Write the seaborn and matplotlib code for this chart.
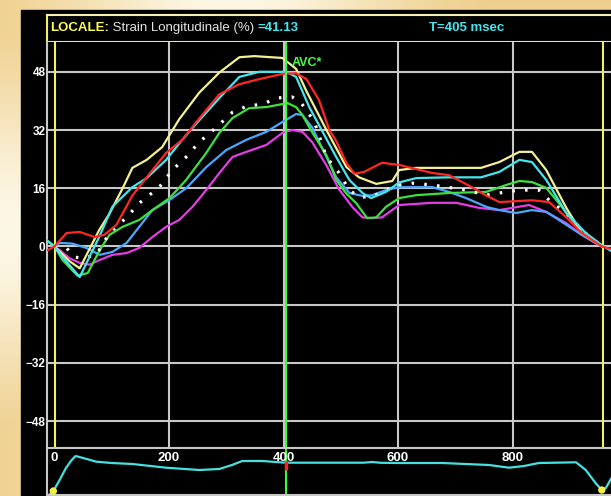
import numpy as np
import pandas as pd
import seaborn as sns
import matplotlib.pyplot as plt
from matplotlib.patches import Rectangle

# ---- data (time in msec, strain in %) ----
yellow_t = [0, 26, 44, 78, 96, 119, 136, 161, 188, 218, 253, 288, 323, 349, 398, 422, 440, 475, 510,
            532, 562, 590, 602, 632, 689, 745, 777, 812, 834, 859, 894, 921, 956]
yellow_v = [0, -4, -6, 4.5, 9, 16, 21.6, 23.8, 27.3, 35, 42.3, 47.8, 52, 52.3, 51.8, 48.8, 42.7, 32, 21.8,
            19, 17.2, 18, 21, 21.6, 21.6, 21.6, 23.2, 26, 26, 21, 10.6, 3.7, 0]

cyan_t = [-12, 0, 12, 44, 78, 101, 136, 161, 195, 223, 253, 288, 323, 358, 405, 422, 445, 492, 515,
          538, 553, 579, 602, 632, 689, 745, 777, 812, 834, 859, 894, 928, 956, 975]
cyan_v = [1.5, 0, -2.5, -8.4, 2.6, 10.9, 16.3, 18.8, 23.8, 29.3, 34.7, 40.8, 46.6, 48, 48, 46.6, 38.3, 24.6, 18.3,
          14.7, 13.3, 15, 17.6, 18.8, 19, 19, 20.5, 23.8, 23.2, 18.3, 9.2, 3.7, 0.4, -1.5]

red_t = [-12, 0, 21, 44, 70, 87, 108, 136, 161, 195, 223, 253, 288, 323, 358, 398, 422, 440, 462, 480,
         492, 510, 524, 541, 572, 602, 660, 689, 729, 754, 777, 834, 864, 894, 921, 956, 975]
red_v = [-1, 0, 3.7, 4, 2.6, 3.2, 5.9, 14, 19, 25.7, 29.3, 35.2, 41.8, 44.6, 46, 47.4, 47.6, 46, 40.2, 32,
         29, 22.9, 20, 20.5, 23, 22.4, 20.2, 19.6, 16.3, 14, 12.2, 12.7, 12.2, 8, 3.7, 0, -0.8]

white_t = [0, 21, 35, 49, 73, 96, 126, 148, 183, 206, 230, 253, 283, 311, 337, 363, 389, 415, 431, 442,
           454, 475, 497, 515, 532, 553, 579, 602, 625, 660, 719, 754, 777, 812, 846, 869, 894, 921, 956]
white_v = [0, -0.4, -2.9, -3.2, -2.3, 3.7, 8, 11.9, 16.3, 21, 24.6, 28.7, 32.8, 36.9, 38.6, 39.1, 40.8, 41.1, 39.4, 37,
           34.2, 24.6, 20.2, 15.5, 13.6, 13.6, 15.5, 16.9, 17.4, 16.9, 15.5, 14.1, 14.7, 15.5, 15.5, 12, 9.2, 4.5, 0]

green_t = [-14, 0, 14, 40, 58, 79, 96, 119, 148, 171, 201, 230, 265, 288, 311, 340, 370, 407, 422, 433,
           450, 475, 492, 510, 527, 546, 562, 579, 602, 632, 689, 754, 789, 812, 834, 859, 881, 921, 956]
green_v = [1.8, 0, -3.7, -8, -7.3, -1, 3.2, 5.4, 7.3, 10, 13.3, 18.3, 25.7, 31.2, 35.3, 38, 38.3, 39.4, 38.3, 36.1,
           31.4, 25.1, 18.3, 14.5, 11.9, 7.8, 8, 10.9, 13.3, 14.1, 14.7, 15, 16.9, 18, 17.7, 16.1, 11.9, 3.7, 0.1]

blue_t = [0, 9, 31, 56, 79, 101, 126, 148, 171, 201, 230, 265, 300, 335, 370, 398, 422, 433, 450, 475,
          492, 515, 538, 555, 579, 602, 660, 689, 719, 754, 777, 806, 834, 859, 881, 921, 956]
blue_v = [0, 1, 0.8, -0.4, -2.3, -1.5, 1, 5.4, 10, 12.8, 16, 21.8, 26.5, 29.3, 31.5, 34.2, 36.4, 36.1, 32.7, 24.6,
          19, 14.7, 13.9, 14.1, 15.5, 16.3, 16.3, 15, 13.3, 10.9, 10, 9.2, 10, 9.5, 7.3, 3.2, 0]

magenta_t = [0, 9, 26, 44, 61, 79, 101, 126, 148, 171, 195, 218, 241, 265, 288, 311, 335, 370, 398, 415,
             433, 450, 475, 497, 520, 538, 555, 572, 602, 660, 702, 742, 777, 799, 829, 859, 894, 921, 956]
magenta_v = [0, -1, -3.2, -4.5, -5, -3.7, -2.3, -1.8, -0.4, 2.6, 5.4, 7.3, 10.9, 15.5, 20.2, 24.6, 26, 27.9, 31.2, 32,
             31.5, 28.7, 22.3, 15.7, 10.9, 8, 7.8, 8, 11.4, 12, 12, 10.6, 10, 10.6, 11.4, 9.5, 6.4, 3.2, 0]

# lower strip trace (level above strip bottom, px-like units)
strip_t = [-12, -2, 9, 20, 30, 37, 50, 73, 100, 136, 195, 253, 288, 310, 328, 363, 398, 410, 540, 555,
           570, 602, 677, 759, 794, 820, 846, 911, 928, 945, 956, 963, 975]
strip_v = [0, 5, 16, 28, 36, 40, 38, 34.3, 33, 32, 28.3, 26, 27, 31, 35, 35, 33.5, 33.3, 33.3, 34,
           33.2, 33, 33, 31, 28.3, 30, 33, 33.7, 26, 13, 6, 8, 20]
strip_dot_t = [-2, 956]
strip_dot_v = [5, 6]
strip_minor_ticks = [87, 187, 287, 387, 487, 587, 687, 787, 887]
strip_labels = [0, 200, 400, 600, 800]

y_ticks = [-48, -32, -16, 0, 16, 32, 48]
x_grid = [200, 400, 600, 800]
cycle_start, cycle_end = 0, 958
avc_ms = 405
strain_value = "41.13"

# ---- layout helpers (pixel geometry of the 611x496 picture) ----
W, H = 611, 496
PX_PER_MS = 0.5725
X0_PX = 54.5
def ms_at(px):
    return (px - X0_PX) / PX_PER_MS

def rect(x0, y0, x1, y1):
    return [x0 / W, 1 - y1 / H, (x1 - x0) / W, (y1 - y0) / H]

sns.set_style("dark", {"axes.facecolor": "black"})
plt.rcParams["font.family"] = ["Liberation Sans", "DejaVu Sans"]

fig = plt.figure(figsize=(W / 100, H / 100), dpi=100)

# background: cream gradient and black frame
bg = fig.add_axes([0, 0, 1, 1], zorder=-10)
yy, xx = np.mgrid[0:H, 0:W]
light = np.maximum(np.exp(-((xx - 230) / 170.0) ** 2), np.exp(-((yy - 230) / 150.0) ** 2))
dark_c = np.array([0.93, 0.80, 0.52])
light_c = np.array([0.99, 0.97, 0.90])
img = dark_c + (light_c - dark_c) * light[..., None]
bg.imshow(img, extent=[0, W, H, 0], aspect="auto")
bg.add_patch(Rectangle((21, 10), W, H, color="black"))
bg.set_xlim(0, W)
bg.set_ylim(H, 0)
bg.axis("off")

grid_c = "#c8c8c8"
yel_c = "#f2f060"

# header box
hd = fig.add_axes(rect(47, 15, 630, 42))
hd.set_facecolor("black")
hd.set_xlim(47, 630)
hd.set_ylim(42, 15)
hd.set_xticks([])
hd.set_yticks([])
for s in ["left", "bottom"]:
    hd.spines[s].set_color(yel_c)
    hd.spines[s].set_linewidth(1.5)
hd.spines["top"].set_color("#f4f0b0")
hd.spines["top"].set_linewidth(1.5)
hd.spines["right"].set_visible(False)
t1 = hd.text(50, 28, "LOCALE:", color="#ffff50", fontsize=9.5, fontweight="bold", va="center")
t2 = hd.annotate(" Strain Longitudinale (%) ", xy=(1, 0), xycoords=t1, va="bottom",
                 color="#e4e4e4", fontsize=9.5)
hd.annotate("=" + strain_value, xy=(1, 0), xycoords=t2, va="bottom",
            color="#40e8f0", fontsize=9.5, fontweight="bold")
hd.text(504, 28, "T=%d msec" % avc_ms, color="#40e8f0", fontsize=9.5, fontweight="bold",
        ha="right", va="center")

# main strain axes
ax = fig.add_axes(rect(47, 42, 630, 448))
ax.set_facecolor("black")
ax.set_xlim(ms_at(47), ms_at(630))
ax.set_ylim((246.5 - 448) / 3.64, (246.5 - 42) / 3.64)
ax.set_yticks(y_ticks)
ax.set_xticks(x_grid)
ax.set_xticklabels([])
ax.tick_params(axis="y", colors="white", length=0, pad=1, labelsize=8.5)
ax.tick_params(axis="x", length=0)
for lab in ax.get_yticklabels():
    lab.set_fontweight("bold")
ax.grid(True, color=grid_c, linewidth=1.5)
for s in ["top", "right", "bottom"]:
    ax.spines[s].set_visible(False)
ax.spines["left"].set_color(grid_c)
ax.spines["left"].set_linewidth(1.5)
ax.axvline(cycle_start, color=yel_c, lw=1.5, zorder=2)
ax.axvline(cycle_end, color=yel_c, lw=1.5, zorder=2)

series = [
    (magenta_t, magenta_v, "#e53de5", "-"),
    (blue_t, blue_v, "#4aa8ff", "-"),
    (green_t, green_v, "#3ee03e", "-"),
    (white_t, white_v, "white", (0, (0.8, 3.2))),
    (yellow_t, yellow_v, "#f5f090", "-"),
    (cyan_t, cyan_v, "#45e6ee", "-"),
    (red_t, red_v, "#ff2626", "-"),
]
for t, v, c, ls in series:
    df = pd.DataFrame({"t": t, "v": v})
    sns.lineplot(data=df, x="t", y="v", ax=ax, color=c, lw=2.3 if ls != "-" else 1.6,
                 linestyle=ls, sort=False, estimator=None, zorder=3)
ax.set_xlabel("")
ax.set_ylabel("")
ax.axvline(avc_ms, color="#33ff33", lw=1.5, zorder=4)
ax.text(avc_ms + 10, 50.4, "AVC*", color="#44ff44", fontsize=9, fontweight="bold",
        va="center", ha="left")

# lower strip
st = fig.add_axes(rect(47, 448, 630, 495))
st.set_facecolor("black")
st.set_xlim(ms_at(47), ms_at(630))
st.set_ylim(1, 48)
st.set_yticks([])
st.set_xticks([])
st.set_xticks(strip_minor_ticks, minor=True)
st.tick_params(axis="x", which="minor", direction="in", length=4, width=1.2, color=yel_c)
for s in ["top", "bottom", "left"]:
    st.spines[s].set_color(grid_c)
    st.spines[s].set_linewidth(1.5)
st.spines["right"].set_visible(False)
sns.lineplot(x=strip_t, y=strip_v, ax=st, color="#45e0e0", lw=1.6, sort=False, estimator=None)
sns.scatterplot(x=strip_dot_t, y=strip_dot_v, ax=st, color="#f0f040", s=28, edgecolor="none", zorder=5)
for lab in strip_labels:
    st.text(lab, 38, str(lab), color="white", fontsize=9.5, fontweight="bold", ha="center", va="center")
st.axvline(avc_ms, color="#33ff33", lw=1.5)
st.vlines(avc_ms, 26, 35, color="#ff2020", lw=2.5, zorder=6)
st.set_xlabel("")
st.set_ylabel("")

fig.savefig("out.png", dpi=100, facecolor=fig.get_facecolor())
